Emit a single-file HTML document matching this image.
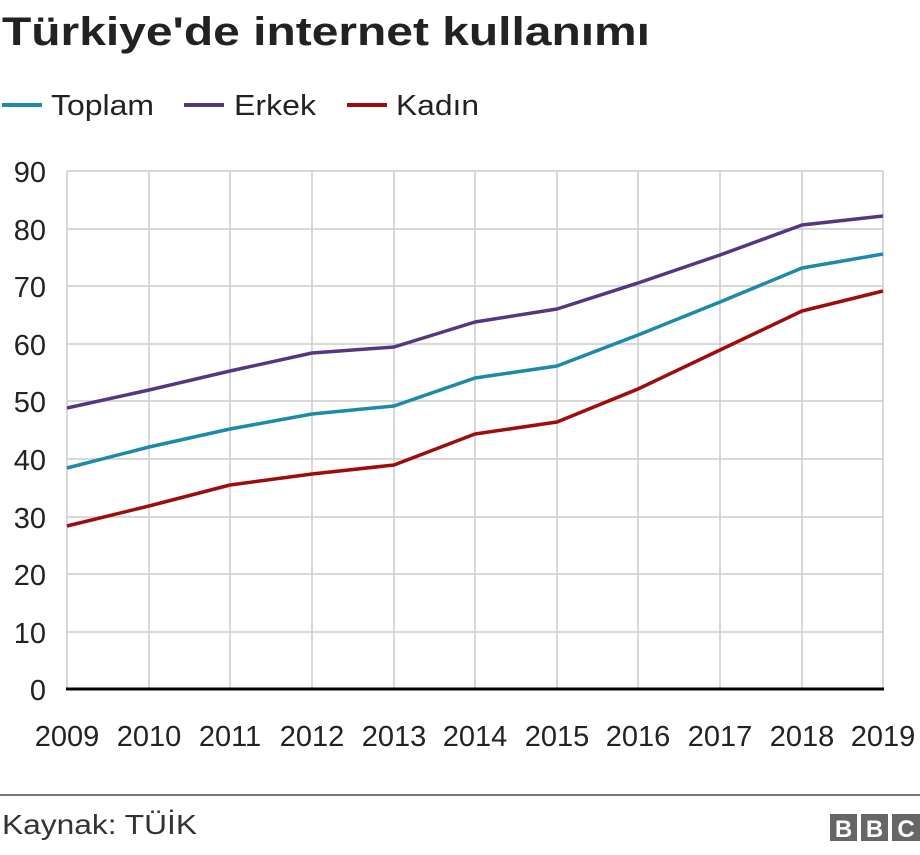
<!DOCTYPE html>
<html><head><meta charset="utf-8"><style>
body{margin:0;background:#fff;width:920px;height:850px;overflow:hidden;font-family:"Liberation Sans",sans-serif}
</style></head><body>
<svg width="920" height="850" xmlns="http://www.w3.org/2000/svg" font-family="Liberation Sans, sans-serif">
<text x="2" y="45" font-size="40" font-weight="bold" fill="#222" textLength="648" lengthAdjust="spacingAndGlyphs">Türkiye'de internet kullanımı</text>
<g font-size="29" fill="#222">
<line x1="2" y1="105" x2="42" y2="105" stroke="#1c8aa8" stroke-width="4"/><text x="51" y="115" textLength="103" lengthAdjust="spacingAndGlyphs">Toplam</text>
<line x1="184" y1="105" x2="224" y2="105" stroke="#55377f" stroke-width="4"/><text x="234" y="115" textLength="82" lengthAdjust="spacingAndGlyphs">Erkek</text>
<line x1="347" y1="105" x2="387" y2="105" stroke="#9e0d0d" stroke-width="4"/><text x="396" y="115" textLength="83" lengthAdjust="spacingAndGlyphs">Kadın</text>
</g>
<g stroke="#ccc" stroke-width="1.5">
<line x1="67" y1="171" x2="883" y2="171"/><line x1="67" y1="229" x2="883" y2="229"/><line x1="67" y1="286" x2="883" y2="286"/><line x1="67" y1="344" x2="883" y2="344"/><line x1="67" y1="401" x2="883" y2="401"/><line x1="67" y1="459" x2="883" y2="459"/><line x1="67" y1="517" x2="883" y2="517"/><line x1="67" y1="574" x2="883" y2="574"/><line x1="67" y1="632" x2="883" y2="632"/>
<line x1="67" y1="171" x2="67" y2="689"/><line x1="149" y1="171" x2="149" y2="689"/><line x1="230" y1="171" x2="230" y2="689"/><line x1="312" y1="171" x2="312" y2="689"/><line x1="394" y1="171" x2="394" y2="689"/><line x1="475" y1="171" x2="475" y2="689"/><line x1="557" y1="171" x2="557" y2="689"/><line x1="638" y1="171" x2="638" y2="689"/><line x1="720" y1="171" x2="720" y2="689"/><line x1="802" y1="171" x2="802" y2="689"/><line x1="883" y1="171" x2="883" y2="689"/>
</g>
<line x1="66" y1="689" x2="884" y2="689" stroke="#000" stroke-width="3"/>
<g font-size="29" fill="#222" text-anchor="end">
<text x="46" y="182">90</text><text x="46" y="240">80</text><text x="46" y="297">70</text><text x="46" y="355">60</text><text x="46" y="412">50</text><text x="46" y="470">40</text><text x="46" y="528">30</text><text x="46" y="585">20</text><text x="46" y="643">10</text><text x="46" y="700">0</text>
</g>
<g font-size="29" fill="#222" text-anchor="middle">
<text x="67" y="746">2009</text><text x="149" y="746">2010</text><text x="230" y="746">2011</text><text x="312" y="746">2012</text><text x="394" y="746">2013</text><text x="475" y="746">2014</text><text x="557" y="746">2015</text><text x="638" y="746">2016</text><text x="720" y="746">2017</text><text x="802" y="746">2018</text><text x="883" y="746">2019</text>
</g>
<g fill="none" stroke-width="3.5" stroke-linejoin="round">
<polyline stroke="#55377f" points="67,408 149,390 230,371 312,353 394,347 475,322 557,309 638,283 720,255 802,225 883,216"/>
<polyline stroke="#1c8aa8" points="67,468 149,447 230,429 312,414 394,406 475,378 557,366 638,335 720,302 802,268 883,254"/>
<polyline stroke="#9e0d0d" points="67,526 149,506 230,485 312,474 394,465 475,434 557,422 638,389 720,350 802,311 883,291"/>
</g>
<line x1="0" y1="795" x2="920" y2="795" stroke="#777" stroke-width="2"/>
<text x="2" y="834" font-size="28" fill="#333" textLength="195" lengthAdjust="spacingAndGlyphs">Kaynak: TÜİK</text>
<g font-size="24" font-weight="bold" fill="#fff" text-anchor="middle">
<rect x="830" y="814" width="27" height="27" fill="#666"/><text x="843.5" y="837">B</text>
<rect x="861" y="814" width="27" height="27" fill="#666"/><text x="874.5" y="837">B</text>
<rect x="892" y="814" width="28" height="27" fill="#666"/><text x="906" y="837">C</text>
</g>
</svg>
</body></html>
